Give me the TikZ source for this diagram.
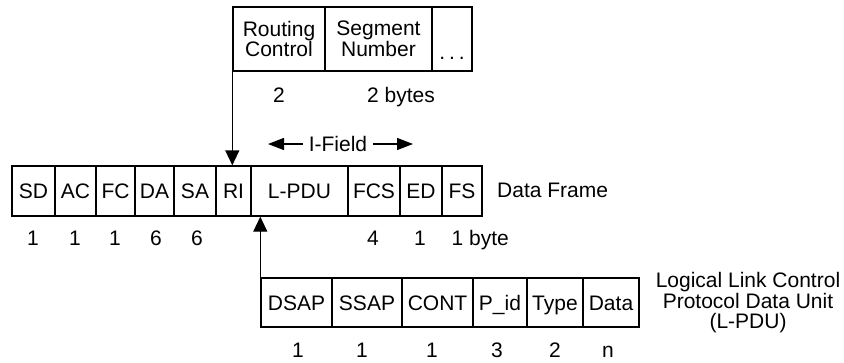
\documentclass[tikz,border=0pt]{standalone}
\usepackage{fontspec}
\setmainfont{Liberation Sans}
\usetikzlibrary{arrows.meta}
\begin{document}
\begin{tikzpicture}[x=1pt,y=-1pt,
  txt/.style={font=\fontsize{21}{20}\selectfont, inner sep=0pt, text height=15pt, text depth=0pt},
  cell/.style={txt, draw, line width=1.4pt, minimum height=#1},
  cell/.default=50pt,
  arr/.style={line width=1.4pt, -{Triangle[length=15pt,width=14pt]}},
  iarr/.style={line width=1.4pt, -{Triangle[length=16pt,width=12pt]}}]
\useasboundingbox (0,0) rectangle (844,362);
% top box
\node[cell=64pt, minimum width=92pt, text height=, text depth=, align=center, font=\fontsize{21}{19}\selectfont] (rc) at (279,39) {Routing\\Control};
\node[cell=64pt, minimum width=107pt, text height=, text depth=, align=center, font=\fontsize{21}{19}\selectfont] (sn) at (378.5,39) {Segment\\Number};
\node[cell=64pt, minimum width=40pt] (dots) at (452,39) {};
\node[txt] (dt) at (452,52) {.\hspace{4pt}.\hspace{4pt}.};
\node[txt] (n2a) at (279,95) {2};
\node[txt] (n2b) at (401,95) {2 bytes};
% data frame
\node[cell, minimum width=43pt] (sd) at (33.5,191) {SD};
\node[cell, minimum width=41pt] (ac) at (75.5,191) {AC};
\node[cell, minimum width=39pt] (fc) at (115.5,191) {FC};
\node[cell, minimum width=39pt] (da) at (154.5,191) {DA};
\node[cell, minimum width=42pt] (sa) at (195,191) {SA};
\node[cell, minimum width=35pt] (ri) at (233.5,191) {RI};
\node[cell, minimum width=97pt] (lpdu) at (299.5,191) {L-PDU};
\node[cell, minimum width=52pt] (fcs) at (374,191) {FCS};
\node[cell, minimum width=42pt] (ed) at (421,191) {ED};
\node[cell, minimum width=40pt] (fs) at (462,191) {FS};
\node[txt, anchor=west] (df) at (497,190) {Data Frame};
\node[txt] (m1) at (33,238) {1};
\node[txt] (m2) at (75,238) {1};
\node[txt] (m3) at (115,238) {1};
\node[txt] (m4) at (156,238) {6};
\node[txt] (m5) at (197,238) {6};
\node[txt] (m6) at (373,238) {4};
\node[txt] (m7) at (420,238) {1};
\node[txt, anchor=west] (m8) at (451.5,238) {1 byte};
% I-Field
\node[txt, inner xsep=6pt] (ifield) at (338,144) {I-Field};
\coordinate (ifl) at (268,144);
\coordinate (ifr) at (413,144);
\draw[iarr] (ifield.west) -- (ifl);
\draw[iarr] (ifield.east) -- (ifr);
% L-PDU box
\node[cell=49pt, minimum width=71pt] (dsap) at (296.5,302.5) {DSAP};
\node[cell=49pt, minimum width=70pt] (ssap) at (367,302.5) {SSAP};
\node[cell=49pt, minimum width=71pt] (cont) at (437.5,302.5) {CONT};
\node[cell=49pt, minimum width=54pt] (pid) at (500,302.5) {P\_id};
\node[cell=49pt, minimum width=56pt] (type) at (555,302.5) {Type};
\node[cell=49pt, minimum width=56pt] (data) at (611,302.5) {Data};
\node[txt, text height=, text depth=, align=center, font=\fontsize{21}{20.5}\selectfont] (lbl) at (748,303) {Logical Link Control\\Protocol Data Unit\\(L-PDU)};
\node[txt] (k1) at (298,350) {1};
\node[txt] (k2) at (362,350) {1};
\node[txt] (k3) at (432,350) {1};
\node[txt] (k4) at (497,350) {3};
\node[txt] (k5) at (555,350) {2};
\node[txt] (k6) at (608,350) {n};
% connectors
\draw[arr] (rc.south west) -- (rc.south west |- ri.north);
\draw[arr] (dsap.north west) -- (dsap.north west |- lpdu.south);
\end{tikzpicture}
\end{document}
